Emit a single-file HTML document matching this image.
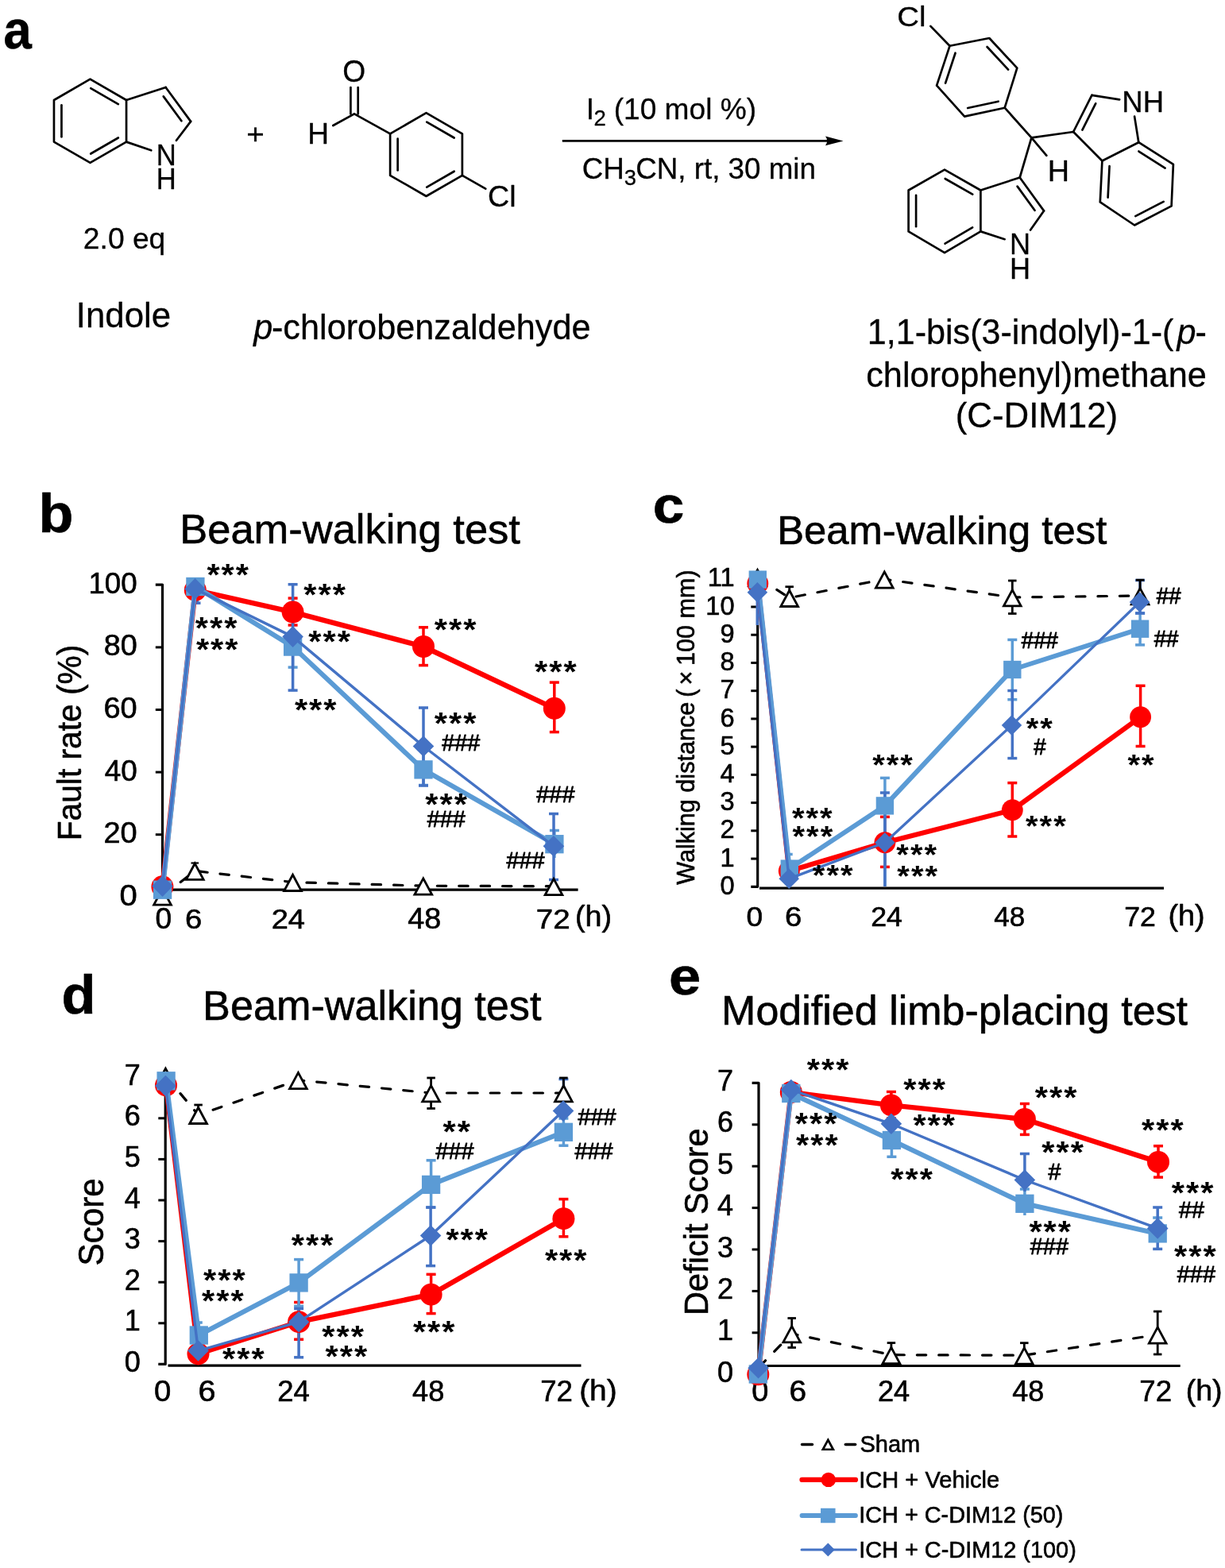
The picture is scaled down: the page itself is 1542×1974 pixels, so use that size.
<!DOCTYPE html>
<html lang="en"><head><meta charset="utf-8"><title>C-DIM12 synthesis and behavioural tests</title>
<style>html,body{margin:0;padding:0;background:#fff}body{width:1542px;height:1974px;overflow:hidden}svg{display:block}text{font-family:"Liberation Sans",Arial,Helvetica,sans-serif;fill:#000;white-space:pre;stroke:#000;stroke-width:.6px;stroke-linejoin:round}#panel-a text{stroke-width:.3px}.h{stroke-width:.9px}.a{stroke-width:0}</style>
</head><body>
<svg width="1542" height="1974" viewBox="0 0 1542 1974">
<rect width="1542" height="1974" fill="#fff"/>
<g id="panel-a">
<text transform="translate(4.28 60.91) scale(0.9353 1)" font-size="68.55" font-weight="bold">a</text>
<polygon points="113.5,99.7 159.05,126 159.05,178.6 113.5,204.9 67.95,178.6 67.95,126" fill="none" stroke="#000" stroke-width="2.7" stroke-linejoin="round"/>
<line x1="114.22" y1="111.08" x2="148.84" y2="131.07" stroke="#000" stroke-width="2.7" stroke-linecap="round"/>
<line x1="148.84" y1="173.53" x2="114.22" y2="193.52" stroke="#000" stroke-width="2.7" stroke-linecap="round"/>
<line x1="77.45" y1="172.29" x2="77.45" y2="132.31" stroke="#000" stroke-width="2.7" stroke-linecap="round"/>
<line x1="159.05" y1="126" x2="208.6" y2="110" stroke="#000" stroke-width="2.7" stroke-linecap="round"/>
<line x1="208.6" y1="110" x2="240.1" y2="152.9" stroke="#000" stroke-width="2.7" stroke-linecap="round"/>
<line x1="205.76" y1="121.33" x2="228.44" y2="152.22" stroke="#000" stroke-width="2.7" stroke-linecap="round"/>
<line x1="240.1" y1="152.9" x2="222" y2="176.8" stroke="#000" stroke-width="2.7" stroke-linecap="round"/>
<line x1="159.05" y1="178.6" x2="190.3" y2="189.3" stroke="#000" stroke-width="2.7" stroke-linecap="round"/>
<text transform="translate(196.63 207.5) scale(0.9600 1)" font-size="36.09">N</text>
<text transform="translate(196.63 237.6) scale(0.9600 1)" font-size="36.09">H</text>
<text transform="translate(104.84 312.8) scale(0.9981 1)" font-size="37.3">2.0 eq</text>
<text transform="translate(95.76 411.7) scale(0.9892 1)" font-size="44.3">Indole</text>
<text transform="translate(310.37 181) scale(1.1016 1)" font-size="35">+</text>
<polygon points="536.5,142.2 581.88,168.4 581.88,220.8 536.5,247 491.12,220.8 491.12,168.4" fill="none" stroke="#000" stroke-width="2.7" stroke-linejoin="round"/>
<line x1="537.2" y1="153.57" x2="571.68" y2="173.48" stroke="#000" stroke-width="2.7" stroke-linecap="round"/>
<line x1="571.68" y1="215.72" x2="537.2" y2="235.63" stroke="#000" stroke-width="2.7" stroke-linecap="round"/>
<line x1="500.62" y1="214.51" x2="500.62" y2="174.69" stroke="#000" stroke-width="2.7" stroke-linecap="round"/>
<line x1="491.12" y1="168.4" x2="446" y2="143.4" stroke="#000" stroke-width="2.7" stroke-linecap="round"/>
<line x1="446" y1="143.4" x2="419.3" y2="158" stroke="#000" stroke-width="2.7" stroke-linecap="round"/>
<line x1="441.4" y1="110" x2="441.4" y2="143.5" stroke="#000" stroke-width="2.7" stroke-linecap="round"/>
<line x1="450.7" y1="110" x2="450.7" y2="143.5" stroke="#000" stroke-width="2.7" stroke-linecap="round"/>
<text transform="translate(431.32 103.12) scale(0.9717 1)" font-size="38.31">O</text>
<text transform="translate(387.23 181.4) scale(0.9857 1)" font-size="37.68">H</text>
<line x1="581.88" y1="220.8" x2="611.3" y2="237.7" stroke="#000" stroke-width="2.7" stroke-linecap="round"/>
<text transform="translate(614.02 260.13) scale(1.0186 1)" font-size="37.01">Cl</text>
<text transform="translate(319.28 427.2) scale(0.9923 1)" font-size="43.6"><tspan x="0" font-style="italic">p</tspan><tspan x="22.85">-chlorobenzaldehyde</tspan></text>
<line x1="707.8" y1="177.4" x2="1045" y2="177.4" stroke="#000" stroke-width="2.9"/>
<path d="M1061.5 177.4 L1039 171.6 Q1043.5 177.4 1039 183.2 Z" fill="#000"/>
<text transform="translate(737.66 149.7) scale(1.0030 1)" font-size="37"><tspan x="0">I</tspan><tspan x="9.93" dy="8.3" font-size="27.5">2</tspan><tspan x="24.65" dy="-8.3"> (10 mol %)</tspan></text>
<text transform="translate(732.66 224.9) scale(0.9940 1)" font-size="37"><tspan x="0">CH</tspan><tspan x="53.37" dy="8.3" font-size="27.5">3</tspan><tspan x="67.91" dy="-8.3">CN, rt, 30 min</tspan></text>
<polygon points="1195.5,57.8 1245.3,48 1280.3,85.6 1264.7,135.7 1214.1,146.6 1179.1,107.7" fill="none" stroke="#000" stroke-width="2.7" stroke-linejoin="round"/>
<line x1="1242.55" y1="58.98" x2="1269.15" y2="87.56" stroke="#000" stroke-width="2.7" stroke-linecap="round"/>
<line x1="1256.63" y1="127.72" x2="1218.17" y2="136.01" stroke="#000" stroke-width="2.7" stroke-linecap="round"/>
<line x1="1190.09" y1="104.68" x2="1202.56" y2="66.75" stroke="#000" stroke-width="2.7" stroke-linecap="round"/>
<line x1="1171.3" y1="32.9" x2="1195.5" y2="57.8" stroke="#000" stroke-width="2.7" stroke-linecap="round"/>
<text transform="translate(1129.18 32.85) scale(1.0904 1)" font-size="35.24">Cl</text>
<line x1="1264.7" y1="135.7" x2="1298.4" y2="173.3" stroke="#000" stroke-width="2.7" stroke-linecap="round"/>
<line x1="1298.4" y1="173.3" x2="1317.4" y2="195.8" stroke="#000" stroke-width="2.7" stroke-linecap="round"/>
<text transform="translate(1318.77 227.8) scale(1.0244 1)" font-size="36.96">H</text>
<line x1="1298.4" y1="173.3" x2="1351.1" y2="166" stroke="#000" stroke-width="2.7" stroke-linecap="round"/>
<line x1="1351.1" y1="166" x2="1374.4" y2="119.8" stroke="#000" stroke-width="2.7" stroke-linecap="round"/>
<line x1="1374.4" y1="119.8" x2="1409.2" y2="125.3" stroke="#000" stroke-width="2.7" stroke-linecap="round"/>
<line x1="1428.1" y1="146.6" x2="1433.3" y2="179.2" stroke="#000" stroke-width="2.7" stroke-linecap="round"/>
<line x1="1351.1" y1="166" x2="1387.4" y2="202.5" stroke="#000" stroke-width="2.7" stroke-linecap="round"/>
<line x1="1362.4" y1="163.58" x2="1379.17" y2="130.32" stroke="#000" stroke-width="2.7" stroke-linecap="round"/>
<polygon points="1387.4,202.5 1384.8,254.4 1428.1,283.5 1474.6,259.4 1476.9,206.9 1433.3,179.2" fill="none" stroke="#000" stroke-width="2.7" stroke-linejoin="round"/>
<line x1="1396.58" y1="209.2" x2="1394.6" y2="248.65" stroke="#000" stroke-width="2.7" stroke-linecap="round"/>
<line x1="1429.31" y1="272.17" x2="1464.65" y2="253.86" stroke="#000" stroke-width="2.7" stroke-linecap="round"/>
<line x1="1466.57" y1="211.59" x2="1433.44" y2="190.54" stroke="#000" stroke-width="2.7" stroke-linecap="round"/>
<text transform="translate(1412.28 140.6) scale(0.9990 1)" font-size="36.52">NH</text>
<line x1="1298.4" y1="173.3" x2="1283.7" y2="223.5" stroke="#000" stroke-width="2.7" stroke-linecap="round"/>
<polygon points="1189,213.6 1234.4,239.5 1234.4,291.4 1189,318.1 1143.6,291.4 1143.6,239.5" fill="none" stroke="#000" stroke-width="2.7" stroke-linejoin="round"/>
<line x1="1189.74" y1="224.96" x2="1224.24" y2="244.64" stroke="#000" stroke-width="2.7" stroke-linecap="round"/>
<line x1="1224.14" y1="286.42" x2="1189.63" y2="306.71" stroke="#000" stroke-width="2.7" stroke-linecap="round"/>
<line x1="1153.1" y1="285.17" x2="1153.1" y2="245.73" stroke="#000" stroke-width="2.7" stroke-linecap="round"/>
<line x1="1234.4" y1="239.5" x2="1283.7" y2="223.5" stroke="#000" stroke-width="2.7" stroke-linecap="round"/>
<line x1="1283.7" y1="223.5" x2="1314" y2="265.4" stroke="#000" stroke-width="2.7" stroke-linecap="round"/>
<line x1="1314" y1="265.4" x2="1297.1" y2="289.6" stroke="#000" stroke-width="2.7" stroke-linecap="round"/>
<line x1="1234.4" y1="291.4" x2="1264.7" y2="301.2" stroke="#000" stroke-width="2.7" stroke-linecap="round"/>
<line x1="1280.65" y1="234.64" x2="1302.47" y2="264.81" stroke="#000" stroke-width="2.7" stroke-linecap="round"/>
<text transform="translate(1270.91 319.9) scale(0.9877 1)" font-size="36.52">N</text>
<text transform="translate(1270.91 351) scale(0.9916 1)" font-size="36.38">H</text>
<text transform="translate(1091.77 432.5) scale(0.9914 1)" font-size="43.5"><tspan x="0">1,1-bis(3-indolyl)-1-(</tspan><tspan x="393.1" font-style="italic">p</tspan><tspan x="416.29">-</tspan></text>
<text transform="translate(1090.17 486.9) scale(0.9962 1)" font-size="43.5">chlorophenyl)methane</text>
<text transform="translate(1202.67 537.8) scale(1.0075 1)" font-size="43.5">(C-DIM12)</text>
</g>
<g id="chart-b">
<text transform="translate(48.53 670.22) scale(1.0504 1)" font-size="68.44" font-weight="bold">b</text>
<text transform="translate(226.2 683.7) scale(1.0055 1)" font-size="52.2">Beam-walking test</text>
<text transform="translate(102.3 1058.36) rotate(-90) scale(0.9475 1)" font-size="43">Fault rate (%)</text>
<path d="M195.8 736.1 H204.5 V1120.2 H727.6" fill="none" stroke="#000" stroke-width="3.2" stroke-linejoin="round" stroke-linecap="butt"/>
<line x1="195.8" y1="814.9" x2="204.5" y2="814.9" stroke="#000" stroke-width="3"/>
<line x1="195.8" y1="893.5" x2="204.5" y2="893.5" stroke="#000" stroke-width="3"/>
<line x1="195.8" y1="972.1" x2="204.5" y2="972.1" stroke="#000" stroke-width="3"/>
<line x1="195.8" y1="1050.7" x2="204.5" y2="1050.7" stroke="#000" stroke-width="3"/>
<text transform="translate(111.45 746.6) scale(1.0144 1)" font-size="36.2">100</text>
<text transform="translate(130.7 825.4) scale(1.0433 1)" font-size="36.2">80</text>
<text transform="translate(130.5 904) scale(1.0484 1)" font-size="36.2">60</text>
<text transform="translate(131.66 982.6) scale(1.0186 1)" font-size="36.2">40</text>
<text transform="translate(130.5 1061.2) scale(1.0484 1)" font-size="36.2">20</text>
<text transform="translate(150.5 1139.8) scale(1.1050 1)" font-size="36.2">0</text>
<text transform="translate(195.62 1169.3) scale(1.0301 1)" font-size="36">0</text>
<text transform="translate(232.99 1169.3) scale(1.0633 1)" font-size="36">6</text>
<text transform="translate(341.7 1169.3) scale(1.0572 1)" font-size="36">24</text>
<text transform="translate(513.24 1169.3) scale(1.0503 1)" font-size="36">48</text>
<text transform="translate(674.77 1169.3) scale(1.0699 1)" font-size="36">72</text>
<text transform="translate(724.04 1166) scale(1.0197 1)" font-size="37">(h)</text>
<line x1="368.6" y1="753.1" x2="368.6" y2="787" stroke="#ff0000" stroke-width="3.5"/>
<line x1="362.6" y1="753.1" x2="374.6" y2="753.1" stroke="#ff0000" stroke-width="3.5"/>
<line x1="362.6" y1="787" x2="374.6" y2="787" stroke="#ff0000" stroke-width="3.5"/>
<line x1="533" y1="789.8" x2="533" y2="837.6" stroke="#ff0000" stroke-width="3.5"/>
<line x1="527" y1="789.8" x2="539" y2="789.8" stroke="#ff0000" stroke-width="3.5"/>
<line x1="527" y1="837.6" x2="539" y2="837.6" stroke="#ff0000" stroke-width="3.5"/>
<line x1="697.8" y1="859.1" x2="697.8" y2="921.6" stroke="#ff0000" stroke-width="3.5"/>
<line x1="691.8" y1="859.1" x2="703.8" y2="859.1" stroke="#ff0000" stroke-width="3.5"/>
<line x1="691.8" y1="921.6" x2="703.8" y2="921.6" stroke="#ff0000" stroke-width="3.5"/>
<line x1="368.6" y1="790" x2="368.6" y2="840.1" stroke="#5b9bd5" stroke-width="3.5"/>
<line x1="362.6" y1="840.1" x2="374.6" y2="840.1" stroke="#5b9bd5" stroke-width="3.5"/>
<line x1="533" y1="950" x2="533" y2="988.5" stroke="#5b9bd5" stroke-width="3.5"/>
<line x1="527" y1="988.5" x2="539" y2="988.5" stroke="#5b9bd5" stroke-width="3.5"/>
<line x1="697.9" y1="1045.5" x2="697.9" y2="1080" stroke="#5b9bd5" stroke-width="3.5"/>
<line x1="691.9" y1="1045.5" x2="703.9" y2="1045.5" stroke="#5b9bd5" stroke-width="3.5"/>
<line x1="368.6" y1="735.7" x2="368.6" y2="869.1" stroke="#4472c4" stroke-width="3.5"/>
<line x1="362.6" y1="735.7" x2="374.6" y2="735.7" stroke="#4472c4" stroke-width="3.5"/>
<line x1="362.6" y1="869.1" x2="374.6" y2="869.1" stroke="#4472c4" stroke-width="3.5"/>
<line x1="533" y1="891" x2="533" y2="989" stroke="#4472c4" stroke-width="3.5"/>
<line x1="527" y1="891" x2="539" y2="891" stroke="#4472c4" stroke-width="3.5"/>
<line x1="527" y1="989" x2="539" y2="989" stroke="#4472c4" stroke-width="3.5"/>
<line x1="697" y1="1024.5" x2="697" y2="1107.5" stroke="#4472c4" stroke-width="3.5"/>
<line x1="691" y1="1024.5" x2="703" y2="1024.5" stroke="#4472c4" stroke-width="3.5"/>
<line x1="691" y1="1107.5" x2="703" y2="1107.5" stroke="#4472c4" stroke-width="3.5"/>
<line x1="248.5" y1="745" x2="248.5" y2="759.2" stroke="#4472c4" stroke-width="3.5"/>
<line x1="244.5" y1="759.2" x2="252.5" y2="759.2" stroke="#4472c4" stroke-width="3.5"/>
<polyline points="204.5,1128.3 245.3,1096.4 368.5,1110.6 532.8,1115.2 697,1115.7" fill="none" stroke="#000" stroke-width="3.2" stroke-dasharray="11.4 16" stroke-dashoffset="-1.5" stroke-linecap="round"/>
<line x1="245.3" y1="1086" x2="245.3" y2="1092" stroke="#000" stroke-width="2.2"/>
<line x1="240.5" y1="1086.5" x2="250.1" y2="1086.5" stroke="#000" stroke-width="2.2"/>
<polygon points="204.5,1118.96 215.36,1139.2 193.64,1139.2" fill="#fff" stroke="#000" stroke-width="2.8"/>
<polygon points="245.3,1087.06 256.16,1107.3 234.44,1107.3" fill="#fff" stroke="#000" stroke-width="2.8"/>
<polygon points="368.5,1101.26 379.36,1121.5 357.64,1121.5" fill="#fff" stroke="#000" stroke-width="2.8"/>
<polygon points="532.8,1105.86 543.66,1126.1 521.94,1126.1" fill="#fff" stroke="#000" stroke-width="2.8"/>
<polygon points="697,1106.36 707.86,1126.6 686.14,1126.6" fill="#fff" stroke="#000" stroke-width="2.8"/>
<polyline points="204.4,1116.3 245.8,742.8 368.6,770.6 533,814 697.8,891.8" fill="none" stroke="#ff0000" stroke-width="6.4" stroke-linejoin="round" stroke-linecap="round"/>
<circle cx="204.4" cy="1116.3" r="14" fill="#ff0000"/>
<circle cx="245.8" cy="742.8" r="14" fill="#ff0000"/>
<circle cx="368.6" cy="770.6" r="14" fill="#ff0000"/>
<circle cx="533" cy="814" r="14" fill="#ff0000"/>
<circle cx="697.8" cy="891.8" r="14" fill="#ff0000"/>
<polyline points="204.6,1120.2 245.9,738.5 368.6,814.1 533,968.9 697.9,1062.7" fill="none" stroke="#5b9bd5" stroke-width="6.1" stroke-linejoin="round" stroke-linecap="round"/>
<rect x="192.95" y="1108.55" width="23.3" height="23.3" fill="#5b9bd5"/>
<rect x="234.25" y="726.85" width="23.3" height="23.3" fill="#5b9bd5"/>
<rect x="356.95" y="802.45" width="23.3" height="23.3" fill="#5b9bd5"/>
<rect x="521.35" y="957.25" width="23.3" height="23.3" fill="#5b9bd5"/>
<rect x="686.25" y="1051.05" width="23.3" height="23.3" fill="#5b9bd5"/>
<polyline points="204.5,1115.6 245.6,741.4 368.6,801.6 533,939.5 696.9,1065.3" fill="none" stroke="#4472c4" stroke-width="3.4" stroke-linejoin="round" stroke-linecap="round"/>
<polygon points="204.5,1102.3 217.8,1115.6 204.5,1128.9 191.2,1115.6" fill="#4472c4"/>
<polygon points="245.6,728.1 258.9,741.4 245.6,754.7 232.3,741.4" fill="#4472c4"/>
<polygon points="368.6,788.3 381.9,801.6 368.6,814.9 355.3,801.6" fill="#4472c4"/>
<polygon points="533,926.2 546.3,939.5 533,952.8 519.7,939.5" fill="#4472c4"/>
<polygon points="696.9,1052 710.2,1065.3 696.9,1078.6 683.6,1065.3" fill="#4472c4"/>
<text transform="translate(260.39 737.27) scale(1.08 1)" font-size="38.5" font-weight="bold" letter-spacing="1.9" class="a">***</text>
<text transform="translate(245.69 803.57) scale(1.08 1)" font-size="38.5" font-weight="bold" letter-spacing="1.9" class="a">***</text>
<text transform="translate(246.89 831.46) scale(1.08 1)" font-size="38.5" font-weight="bold" letter-spacing="1.9" class="a">***</text>
<text transform="translate(382.29 761.57) scale(1.08 1)" font-size="38.5" font-weight="bold" letter-spacing="1.9" class="a">***</text>
<text transform="translate(388.29 821.46) scale(1.08 1)" font-size="38.5" font-weight="bold" letter-spacing="1.9" class="a">***</text>
<text transform="translate(370.89 907.07) scale(1.08 1)" font-size="38.5" font-weight="bold" letter-spacing="1.9" class="a">***</text>
<text transform="translate(546.69 805.77) scale(1.08 1)" font-size="38.5" font-weight="bold" letter-spacing="1.9" class="a">***</text>
<text transform="translate(546.69 924.16) scale(1.08 1)" font-size="38.5" font-weight="bold" letter-spacing="1.9" class="a">***</text>
<text transform="translate(556.26 945.35) scale(0.96 1)" font-size="30" class="h">###</text>
<text transform="translate(535.19 1025.87) scale(1.08 1)" font-size="38.5" font-weight="bold" letter-spacing="1.9" class="a">***</text>
<text transform="translate(537.66 1041.25) scale(0.96 1)" font-size="30" class="h">###</text>
<text transform="translate(673.09 858.96) scale(1.08 1)" font-size="38.5" font-weight="bold" letter-spacing="1.9" class="a">***</text>
<text transform="translate(675.36 1009.85) scale(0.96 1)" font-size="30" class="h">###</text>
<text transform="translate(637.56 1092.55) scale(0.96 1)" font-size="30" class="h">###</text>
</g>
<g id="chart-c">
<text transform="translate(821.75 657.65) scale(1.0898 1)" font-size="65.27" font-weight="bold">c</text>
<text transform="translate(978.13 685.1) scale(1.0125 1)" font-size="50.2">Beam-walking test</text>
<text transform="translate(873.8 1113.85) rotate(-90) scale(0.9504 1)" font-size="32.2"><tspan x="0">Walking distance</tspan><tspan x="239.43"> (</tspan><tspan x="264.43">×</tspan><tspan x="290.15">100 mm)</tspan></text>
<path d="M953.7 728.8 V1116.3 H945.3" fill="none" stroke="#000" stroke-width="3.2" stroke-linejoin="round"/>
<line x1="956" y1="1118.2" x2="1465" y2="1118.2" stroke="#000" stroke-width="3.2"/>
<line x1="945.3" y1="1081.07" x2="953.7" y2="1081.07" stroke="#000" stroke-width="3"/>
<line x1="945.3" y1="1045.84" x2="953.7" y2="1045.84" stroke="#000" stroke-width="3"/>
<line x1="945.3" y1="1010.61" x2="953.7" y2="1010.61" stroke="#000" stroke-width="3"/>
<line x1="945.3" y1="975.38" x2="953.7" y2="975.38" stroke="#000" stroke-width="3"/>
<line x1="945.3" y1="940.15" x2="953.7" y2="940.15" stroke="#000" stroke-width="3"/>
<line x1="945.3" y1="904.92" x2="953.7" y2="904.92" stroke="#000" stroke-width="3"/>
<line x1="945.3" y1="869.69" x2="953.7" y2="869.69" stroke="#000" stroke-width="3"/>
<line x1="945.3" y1="834.46" x2="953.7" y2="834.46" stroke="#000" stroke-width="3"/>
<line x1="945.3" y1="799.23" x2="953.7" y2="799.23" stroke="#000" stroke-width="3"/>
<line x1="945.3" y1="764" x2="953.7" y2="764" stroke="#000" stroke-width="3"/>
<text x="906.47" y="1125.9" font-size="32.6">0</text>
<text x="906.47" y="1090.67" font-size="32.6">1</text>
<text x="906.47" y="1055.44" font-size="32.6">2</text>
<text x="906.47" y="1020.21" font-size="32.6">3</text>
<text x="906.47" y="984.98" font-size="32.6">4</text>
<text x="906.47" y="949.75" font-size="32.6">5</text>
<text x="906.47" y="914.52" font-size="32.6">6</text>
<text x="906.47" y="879.29" font-size="32.6">7</text>
<text x="906.47" y="844.06" font-size="32.6">8</text>
<text x="906.47" y="808.83" font-size="32.6">9</text>
<text x="888.34" y="773.6" font-size="32.6">10</text>
<text x="890.76" y="738.37" font-size="32.6">11</text>
<text transform="translate(939.52 1166) scale(1.0656 1)" font-size="34.8">0</text>
<text transform="translate(987.89 1166) scale(1.1000 1)" font-size="34.8">6</text>
<text transform="translate(1096.21 1166) scale(1.0267 1)" font-size="34.8">24</text>
<text transform="translate(1251.3 1166) scale(1.0071 1)" font-size="34.8">48</text>
<text transform="translate(1415.22 1166) scale(1.0242 1)" font-size="34.8">72</text>
<text transform="translate(1470.44 1165) scale(1.0197 1)" font-size="37">(h)</text>
<line x1="1113.9" y1="1028.4" x2="1113.9" y2="1091.4" stroke="#ff0000" stroke-width="3.5"/>
<line x1="1107.9" y1="1028.4" x2="1119.9" y2="1028.4" stroke="#ff0000" stroke-width="3.5"/>
<line x1="1107.9" y1="1091.4" x2="1119.9" y2="1091.4" stroke="#ff0000" stroke-width="3.5"/>
<line x1="1274.3" y1="985.6" x2="1274.3" y2="1053" stroke="#ff0000" stroke-width="3.5"/>
<line x1="1268.3" y1="985.6" x2="1280.3" y2="985.6" stroke="#ff0000" stroke-width="3.5"/>
<line x1="1268.3" y1="1053" x2="1280.3" y2="1053" stroke="#ff0000" stroke-width="3.5"/>
<line x1="1435.6" y1="863.3" x2="1435.6" y2="939.5" stroke="#ff0000" stroke-width="3.5"/>
<line x1="1429.6" y1="863.3" x2="1441.6" y2="863.3" stroke="#ff0000" stroke-width="3.5"/>
<line x1="1429.6" y1="939.5" x2="1441.6" y2="939.5" stroke="#ff0000" stroke-width="3.5"/>
<line x1="1113.9" y1="979.4" x2="1113.9" y2="1116" stroke="#5b9bd5" stroke-width="3.5"/>
<line x1="1107.9" y1="979.4" x2="1119.9" y2="979.4" stroke="#5b9bd5" stroke-width="3.5"/>
<line x1="993.2" y1="1075.5" x2="993.2" y2="1095" stroke="#5b9bd5" stroke-width="3.5"/>
<line x1="988.7" y1="1075.5" x2="997.7" y2="1075.5" stroke="#5b9bd5" stroke-width="3.5"/>
<line x1="1274.3" y1="805.4" x2="1274.3" y2="880.7" stroke="#5b9bd5" stroke-width="3.5"/>
<line x1="1268.3" y1="805.4" x2="1280.3" y2="805.4" stroke="#5b9bd5" stroke-width="3.5"/>
<line x1="1268.3" y1="880.7" x2="1280.3" y2="880.7" stroke="#5b9bd5" stroke-width="3.5"/>
<line x1="1435.1" y1="772" x2="1435.1" y2="811.9" stroke="#5b9bd5" stroke-width="3.5"/>
<line x1="1429.1" y1="772" x2="1441.1" y2="772" stroke="#5b9bd5" stroke-width="3.5"/>
<line x1="1429.1" y1="811.9" x2="1441.1" y2="811.9" stroke="#5b9bd5" stroke-width="3.5"/>
<line x1="1113.9" y1="998" x2="1113.9" y2="1116" stroke="#4472c4" stroke-width="3.5"/>
<line x1="1107.9" y1="998" x2="1119.9" y2="998" stroke="#4472c4" stroke-width="3.5"/>
<line x1="1274.3" y1="869.5" x2="1274.3" y2="954.6" stroke="#4472c4" stroke-width="3.5"/>
<line x1="1268.3" y1="869.5" x2="1280.3" y2="869.5" stroke="#4472c4" stroke-width="3.5"/>
<line x1="1268.3" y1="954.6" x2="1280.3" y2="954.6" stroke="#4472c4" stroke-width="3.5"/>
<line x1="1435.1" y1="730.5" x2="1435.1" y2="772" stroke="#4472c4" stroke-width="3.5"/>
<line x1="1429.1" y1="730.5" x2="1441.1" y2="730.5" stroke="#4472c4" stroke-width="3.5"/>
<line x1="1429.1" y1="772" x2="1441.1" y2="772" stroke="#4472c4" stroke-width="3.5"/>
<line x1="953.3" y1="745" x2="953.3" y2="787" stroke="#4472c4" stroke-width="3.6"/>
<polyline points="953.5,726.8 993.7,752.6 1113.3,729.2 1274.3,752 1435.1,750" fill="none" stroke="#000" stroke-width="3.2" stroke-dasharray="11.4 16" stroke-dashoffset="-1.5" stroke-linecap="round"/>
<line x1="993.7" y1="738.7" x2="993.7" y2="745" stroke="#000" stroke-width="2.8"/>
<line x1="988.45" y1="738.7" x2="998.95" y2="738.7" stroke="#000" stroke-width="2.8"/>
<line x1="1274.3" y1="731" x2="1274.3" y2="772.5" stroke="#000" stroke-width="2.8"/>
<line x1="1269.05" y1="731" x2="1279.55" y2="731" stroke="#000" stroke-width="2.8"/>
<line x1="1269.05" y1="772.5" x2="1279.55" y2="772.5" stroke="#000" stroke-width="2.8"/>
<line x1="1435.1" y1="730.2" x2="1435.1" y2="745" stroke="#000" stroke-width="2.8"/>
<line x1="1429.85" y1="730.2" x2="1440.35" y2="730.2" stroke="#000" stroke-width="2.8"/>
<polygon points="953.5,717.46 964.36,737.7 942.64,737.7" fill="#fff" stroke="#000" stroke-width="2.8"/>
<polygon points="993.7,743.26 1004.56,763.5 982.84,763.5" fill="#fff" stroke="#000" stroke-width="2.8"/>
<polygon points="1113.3,719.86 1124.16,740.1 1102.44,740.1" fill="#fff" stroke="#000" stroke-width="2.8"/>
<polygon points="1274.3,742.66 1285.16,762.9 1263.44,762.9" fill="#fff" stroke="#000" stroke-width="2.8"/>
<polygon points="1435.1,740.66 1445.96,760.9 1424.24,760.9" fill="#fff" stroke="#000" stroke-width="2.8"/>
<polyline points="953.8,734.4 993.3,1096.5 1113.9,1060.8 1274.3,1019.8 1435.6,902.7" fill="none" stroke="#ff0000" stroke-width="6.27" stroke-linejoin="round" stroke-linecap="round"/>
<circle cx="953.8" cy="734.4" r="13.44" fill="#ff0000"/>
<circle cx="993.3" cy="1096.5" r="13.44" fill="#ff0000"/>
<circle cx="1113.9" cy="1060.8" r="13.44" fill="#ff0000"/>
<circle cx="1274.3" cy="1019.8" r="13.44" fill="#ff0000"/>
<circle cx="1435.6" cy="902.7" r="13.44" fill="#ff0000"/>
<polyline points="953.8,729.6 993.8,1093.6 1113.9,1014.4 1274.3,843 1435.1,791.7" fill="none" stroke="#5b9bd5" stroke-width="5.98" stroke-linejoin="round" stroke-linecap="round"/>
<rect x="942.62" y="718.42" width="22.37" height="22.37" fill="#5b9bd5"/>
<rect x="982.62" y="1082.42" width="22.37" height="22.37" fill="#5b9bd5"/>
<rect x="1102.72" y="1003.22" width="22.37" height="22.37" fill="#5b9bd5"/>
<rect x="1263.12" y="831.82" width="22.37" height="22.37" fill="#5b9bd5"/>
<rect x="1423.92" y="780.52" width="22.37" height="22.37" fill="#5b9bd5"/>
<polyline points="953.4,745.7 993.2,1106.2 1113.9,1060.8 1273.5,913.1 1434.6,758" fill="none" stroke="#4472c4" stroke-width="3.33" stroke-linejoin="round" stroke-linecap="round"/>
<polygon points="953.4,732.93 966.17,745.7 953.4,758.47 940.63,745.7" fill="#4472c4"/>
<polygon points="993.2,1093.43 1005.97,1106.2 993.2,1118.97 980.43,1106.2" fill="#4472c4"/>
<polygon points="1113.9,1048.03 1126.67,1060.8 1113.9,1073.57 1101.13,1060.8" fill="#4472c4"/>
<polygon points="1273.5,900.33 1286.27,913.1 1273.5,925.87 1260.73,913.1" fill="#4472c4"/>
<polygon points="1434.6,745.23 1447.37,758 1434.6,770.77 1421.83,758" fill="#4472c4"/>
<text transform="translate(996.9 1043) scale(1.08 1)" font-size="36.96" font-weight="bold" letter-spacing="1.9" class="a">***</text>
<text transform="translate(997.5 1066.4) scale(1.08 1)" font-size="36.96" font-weight="bold" letter-spacing="1.9" class="a">***</text>
<text transform="translate(1022.8 1115) scale(1.08 1)" font-size="36.96" font-weight="bold" letter-spacing="1.9" class="a">***</text>
<text transform="translate(1098.2 975.5) scale(1.08 1)" font-size="36.96" font-weight="bold" letter-spacing="1.9" class="a">***</text>
<text transform="translate(1128.3 1088.9) scale(1.08 1)" font-size="36.96" font-weight="bold" letter-spacing="1.9" class="a">***</text>
<text transform="translate(1129.3 1116.2) scale(1.08 1)" font-size="36.96" font-weight="bold" letter-spacing="1.9" class="a">***</text>
<text transform="translate(1291 1053.1) scale(1.08 1)" font-size="36.96" font-weight="bold" letter-spacing="1.9" class="a">***</text>
<text transform="translate(1285.86 815.53) scale(0.96 1)" font-size="28.8" class="h">###</text>
<text transform="translate(1291.7 930.3) scale(1.08 1)" font-size="36.96" font-weight="bold" letter-spacing="1.9" class="a">**</text>
<text transform="translate(1301.36 949.73) scale(0.96 1)" font-size="28.8" class="h">#</text>
<text transform="translate(1455.76 760.33) scale(0.96 1)" font-size="28.8" class="h">##</text>
<text transform="translate(1452.66 813.53) scale(0.96 1)" font-size="28.8" class="h">##</text>
<text transform="translate(1419.4 975.7) scale(1.08 1)" font-size="36.96" font-weight="bold" letter-spacing="1.9" class="a">**</text>
</g>
<g id="chart-d">
<text transform="translate(77.58 1275.52) scale(1.0301 1)" font-size="68.44" font-weight="bold">d</text>
<text transform="translate(255.12 1283.9) scale(1.0075 1)" font-size="51.8">Beam-walking test</text>
<text transform="translate(129.5 1593.4) rotate(-90) scale(0.9697 1)" font-size="43.5">Score</text>
<path d="M208.2 1356.2 V1717.4 H199.3" fill="none" stroke="#000" stroke-width="3.2" stroke-linejoin="round"/>
<line x1="211.5" y1="1719.1" x2="731.5" y2="1719.1" stroke="#000" stroke-width="3.2"/>
<line x1="199.3" y1="1665.8" x2="208.2" y2="1665.8" stroke="#000" stroke-width="3"/>
<line x1="199.3" y1="1614.2" x2="208.2" y2="1614.2" stroke="#000" stroke-width="3"/>
<line x1="199.3" y1="1562.6" x2="208.2" y2="1562.6" stroke="#000" stroke-width="3"/>
<line x1="199.3" y1="1511" x2="208.2" y2="1511" stroke="#000" stroke-width="3"/>
<line x1="199.3" y1="1459.4" x2="208.2" y2="1459.4" stroke="#000" stroke-width="3"/>
<line x1="199.3" y1="1407.8" x2="208.2" y2="1407.8" stroke="#000" stroke-width="3"/>
<text x="156.78" y="1727" font-size="36">0</text>
<text x="156.78" y="1675.4" font-size="36">1</text>
<text x="156.78" y="1623.8" font-size="36">2</text>
<text x="156.78" y="1572.2" font-size="36">3</text>
<text x="156.78" y="1520.6" font-size="36">4</text>
<text x="156.78" y="1469" font-size="36">5</text>
<text x="156.78" y="1417.4" font-size="36">6</text>
<text x="156.78" y="1365.8" font-size="36">7</text>
<text transform="translate(194.07 1764.4) scale(1.0502 1)" font-size="36.5">0</text>
<text transform="translate(249.62 1764.4) scale(1.0841 1)" font-size="36.5">6</text>
<text transform="translate(349.17 1764.4)" font-size="36.5">24</text>
<text transform="translate(519.08 1764.4) scale(0.9915 1)" font-size="36.5">48</text>
<text transform="translate(680.17 1764.4) scale(1.0037 1)" font-size="36.5">72</text>
<text transform="translate(729.17 1763) scale(1.0516 1)" font-size="37">(h)</text>
<line x1="376.1" y1="1639.5" x2="376.1" y2="1686.2" stroke="#ff0000" stroke-width="3.5"/>
<line x1="370.1" y1="1639.5" x2="382.1" y2="1639.5" stroke="#ff0000" stroke-width="3.5"/>
<line x1="370.1" y1="1686.2" x2="382.1" y2="1686.2" stroke="#ff0000" stroke-width="3.5"/>
<line x1="542.6" y1="1604.3" x2="542.6" y2="1653.6" stroke="#ff0000" stroke-width="3.5"/>
<line x1="536.6" y1="1604.3" x2="548.6" y2="1604.3" stroke="#ff0000" stroke-width="3.5"/>
<line x1="536.6" y1="1653.6" x2="548.6" y2="1653.6" stroke="#ff0000" stroke-width="3.5"/>
<line x1="709.4" y1="1509.6" x2="709.4" y2="1556.8" stroke="#ff0000" stroke-width="3.5"/>
<line x1="703.4" y1="1509.6" x2="715.4" y2="1509.6" stroke="#ff0000" stroke-width="3.5"/>
<line x1="703.4" y1="1556.8" x2="715.4" y2="1556.8" stroke="#ff0000" stroke-width="3.5"/>
<line x1="376.1" y1="1585.6" x2="376.1" y2="1644.4" stroke="#5b9bd5" stroke-width="3.5"/>
<line x1="370.1" y1="1585.6" x2="382.1" y2="1585.6" stroke="#5b9bd5" stroke-width="3.5"/>
<line x1="370.1" y1="1644.4" x2="382.1" y2="1644.4" stroke="#5b9bd5" stroke-width="3.5"/>
<line x1="250.3" y1="1665" x2="250.3" y2="1690" stroke="#5b9bd5" stroke-width="3.5"/>
<line x1="245.8" y1="1665" x2="254.8" y2="1665" stroke="#5b9bd5" stroke-width="3.5"/>
<line x1="542.6" y1="1460.8" x2="542.6" y2="1520" stroke="#5b9bd5" stroke-width="3.5"/>
<line x1="536.6" y1="1460.8" x2="548.6" y2="1460.8" stroke="#5b9bd5" stroke-width="3.5"/>
<line x1="536.6" y1="1520" x2="548.6" y2="1520" stroke="#5b9bd5" stroke-width="3.5"/>
<line x1="709.4" y1="1408" x2="709.4" y2="1442.2" stroke="#5b9bd5" stroke-width="3.5"/>
<line x1="703.4" y1="1408" x2="715.4" y2="1408" stroke="#5b9bd5" stroke-width="3.5"/>
<line x1="703.4" y1="1442.2" x2="715.4" y2="1442.2" stroke="#5b9bd5" stroke-width="3.5"/>
<line x1="376.1" y1="1647.5" x2="376.1" y2="1708.8" stroke="#4472c4" stroke-width="3.5"/>
<line x1="370.1" y1="1647.5" x2="382.1" y2="1647.5" stroke="#4472c4" stroke-width="3.5"/>
<line x1="370.1" y1="1708.8" x2="382.1" y2="1708.8" stroke="#4472c4" stroke-width="3.5"/>
<line x1="542.1" y1="1520" x2="542.1" y2="1593.6" stroke="#4472c4" stroke-width="3.5"/>
<line x1="536.1" y1="1520" x2="548.1" y2="1520" stroke="#4472c4" stroke-width="3.5"/>
<line x1="536.1" y1="1593.6" x2="548.1" y2="1593.6" stroke="#4472c4" stroke-width="3.5"/>
<line x1="709.4" y1="1358.5" x2="709.4" y2="1400" stroke="#4472c4" stroke-width="3.5"/>
<line x1="703.4" y1="1358.5" x2="715.4" y2="1358.5" stroke="#4472c4" stroke-width="3.5"/>
<polyline points="208.4,1354.5 249.6,1403.6 375.4,1359.8 542.6,1376 709.4,1376" fill="none" stroke="#000" stroke-width="3.2" stroke-dasharray="11.4 16" stroke-dashoffset="-1.5" stroke-linecap="round"/>
<line x1="249.6" y1="1391" x2="249.6" y2="1396" stroke="#000" stroke-width="2.8"/>
<line x1="244.35" y1="1391" x2="254.85" y2="1391" stroke="#000" stroke-width="2.8"/>
<line x1="542.6" y1="1357" x2="542.6" y2="1395.5" stroke="#000" stroke-width="2.8"/>
<line x1="537.35" y1="1357" x2="547.85" y2="1357" stroke="#000" stroke-width="2.8"/>
<line x1="537.35" y1="1395.5" x2="547.85" y2="1395.5" stroke="#000" stroke-width="2.8"/>
<line x1="709.4" y1="1357" x2="709.4" y2="1370" stroke="#000" stroke-width="2.8"/>
<line x1="704.15" y1="1357" x2="714.65" y2="1357" stroke="#000" stroke-width="2.8"/>
<polygon points="208.4,1345.16 219.26,1365.4 197.54,1365.4" fill="#fff" stroke="#000" stroke-width="2.8"/>
<polygon points="249.6,1394.26 260.46,1414.5 238.74,1414.5" fill="#fff" stroke="#000" stroke-width="2.8"/>
<polygon points="375.4,1350.46 386.26,1370.7 364.54,1370.7" fill="#fff" stroke="#000" stroke-width="2.8"/>
<polygon points="542.6,1366.66 553.46,1386.9 531.74,1386.9" fill="#fff" stroke="#000" stroke-width="2.8"/>
<polygon points="709.4,1366.66 720.26,1386.9 698.54,1386.9" fill="#fff" stroke="#000" stroke-width="2.8"/>
<polyline points="209,1366.3 249.5,1704.4 376.1,1664.2 542.6,1629.7 709.4,1534.2" fill="none" stroke="#ff0000" stroke-width="6.4" stroke-linejoin="round" stroke-linecap="round"/>
<circle cx="209" cy="1366.3" r="14" fill="#ff0000"/>
<circle cx="249.5" cy="1704.4" r="14" fill="#ff0000"/>
<circle cx="376.1" cy="1664.2" r="14" fill="#ff0000"/>
<circle cx="542.6" cy="1629.7" r="14" fill="#ff0000"/>
<circle cx="709.4" cy="1534.2" r="14" fill="#ff0000"/>
<polyline points="209.1,1360.8 250.3,1681 376.1,1614.9 542.6,1491.4 709.4,1425.3" fill="none" stroke="#5b9bd5" stroke-width="6.1" stroke-linejoin="round" stroke-linecap="round"/>
<rect x="197.45" y="1349.15" width="23.3" height="23.3" fill="#5b9bd5"/>
<rect x="238.65" y="1669.35" width="23.3" height="23.3" fill="#5b9bd5"/>
<rect x="364.45" y="1603.25" width="23.3" height="23.3" fill="#5b9bd5"/>
<rect x="530.95" y="1479.75" width="23.3" height="23.3" fill="#5b9bd5"/>
<rect x="697.75" y="1413.65" width="23.3" height="23.3" fill="#5b9bd5"/>
<polyline points="208.4,1367 249.5,1700.5 376.1,1664.2 542.1,1555.5 709,1398.6" fill="none" stroke="#4472c4" stroke-width="3.4" stroke-linejoin="round" stroke-linecap="round"/>
<polygon points="208.4,1353.7 221.7,1367 208.4,1380.3 195.1,1367" fill="#4472c4"/>
<polygon points="249.5,1687.2 262.8,1700.5 249.5,1713.8 236.2,1700.5" fill="#4472c4"/>
<polygon points="376.1,1650.9 389.4,1664.2 376.1,1677.5 362.8,1664.2" fill="#4472c4"/>
<polygon points="542.1,1542.2 555.4,1555.5 542.1,1568.8 528.8,1555.5" fill="#4472c4"/>
<polygon points="709,1385.3 722.3,1398.6 709,1411.9 695.7,1398.6" fill="#4472c4"/>
<text transform="translate(256.09 1625.37) scale(1.08 1)" font-size="38.5" font-weight="bold" letter-spacing="1.9" class="a">***</text>
<text transform="translate(253.99 1651.27) scale(1.08 1)" font-size="38.5" font-weight="bold" letter-spacing="1.9" class="a">***</text>
<text transform="translate(279.99 1724.47) scale(1.08 1)" font-size="38.5" font-weight="bold" letter-spacing="1.9" class="a">***</text>
<text transform="translate(366.79 1580.87) scale(1.08 1)" font-size="38.5" font-weight="bold" letter-spacing="1.9" class="a">***</text>
<text transform="translate(405.19 1696.37) scale(1.08 1)" font-size="38.5" font-weight="bold" letter-spacing="1.9" class="a">***</text>
<text transform="translate(409.59 1720.97) scale(1.08 1)" font-size="38.5" font-weight="bold" letter-spacing="1.9" class="a">***</text>
<text transform="translate(557.49 1438.07) scale(1.08 1)" font-size="38.5" font-weight="bold" letter-spacing="1.9" class="a">**</text>
<text transform="translate(548.46 1459.35) scale(0.96 1)" font-size="30" class="h">###</text>
<text transform="translate(561.39 1574.27) scale(1.08 1)" font-size="38.5" font-weight="bold" letter-spacing="1.9" class="a">***</text>
<text transform="translate(519.89 1689.97) scale(1.08 1)" font-size="38.5" font-weight="bold" letter-spacing="1.9" class="a">***</text>
<text transform="translate(727.46 1416.05) scale(0.96 1)" font-size="30" class="h">###</text>
<text transform="translate(723.56 1459.35) scale(0.96 1)" font-size="30" class="h">###</text>
<text transform="translate(685.89 1600.16) scale(1.08 1)" font-size="38.5" font-weight="bold" letter-spacing="1.9" class="a">***</text>
</g>
<g id="chart-e">
<text transform="translate(842.01 1251.53) scale(1.0844 1)" font-size="66.55" font-weight="bold">e</text>
<text transform="translate(908.04 1290.2) scale(0.9950 1)" font-size="52.3">Modified limb-placing test</text>
<text transform="translate(890.8 1656.03) rotate(-90) scale(0.9851 1)" font-size="42.2">Deficit Score</text>
<path d="M946.6 1363.4 H955 V1719.5 H1485.7" fill="none" stroke="#000" stroke-width="3.2" stroke-linejoin="round"/>
<line x1="946.6" y1="1677.8" x2="955" y2="1677.8" stroke="#000" stroke-width="3"/>
<line x1="946.6" y1="1625.4" x2="955" y2="1625.4" stroke="#000" stroke-width="3"/>
<line x1="946.6" y1="1573" x2="955" y2="1573" stroke="#000" stroke-width="3"/>
<line x1="946.6" y1="1520.6" x2="955" y2="1520.6" stroke="#000" stroke-width="3"/>
<line x1="946.6" y1="1468.2" x2="955" y2="1468.2" stroke="#000" stroke-width="3"/>
<line x1="946.6" y1="1415.8" x2="955" y2="1415.8" stroke="#000" stroke-width="3"/>
<text x="902.98" y="1739.8" font-size="36">0</text>
<text x="902.98" y="1687.4" font-size="36">1</text>
<text x="902.98" y="1635" font-size="36">2</text>
<text x="902.98" y="1582.6" font-size="36">3</text>
<text x="902.98" y="1530.2" font-size="36">4</text>
<text x="902.98" y="1477.8" font-size="36">5</text>
<text x="902.98" y="1425.4" font-size="36">6</text>
<text x="902.98" y="1373" font-size="36">7</text>
<text transform="translate(946.18 1764.2) scale(1.0474 1)" font-size="36.2">0</text>
<text transform="translate(993.55 1764.2) scale(1.0753 1)" font-size="36.2">6</text>
<text transform="translate(1104.99 1764.2)" font-size="36.2">24</text>
<text transform="translate(1274.28 1764.2) scale(0.9945 1)" font-size="36.2">48</text>
<text transform="translate(1434.37 1764.2) scale(1.0120 1)" font-size="36.2">72</text>
<text transform="translate(1492.64 1762.6) scale(1.0311 1)" font-size="36.5">(h)</text>
<line x1="1121.9" y1="1374.5" x2="1121.9" y2="1408" stroke="#ff0000" stroke-width="3.5"/>
<line x1="1115.9" y1="1374.5" x2="1127.9" y2="1374.5" stroke="#ff0000" stroke-width="3.5"/>
<line x1="1115.9" y1="1408" x2="1127.9" y2="1408" stroke="#ff0000" stroke-width="3.5"/>
<line x1="1289.9" y1="1389.5" x2="1289.9" y2="1428.4" stroke="#ff0000" stroke-width="3.5"/>
<line x1="1283.9" y1="1389.5" x2="1295.9" y2="1389.5" stroke="#ff0000" stroke-width="3.5"/>
<line x1="1283.9" y1="1428.4" x2="1295.9" y2="1428.4" stroke="#ff0000" stroke-width="3.5"/>
<line x1="1458" y1="1442.7" x2="1458" y2="1482.1" stroke="#ff0000" stroke-width="3.5"/>
<line x1="1452" y1="1442.7" x2="1464" y2="1442.7" stroke="#ff0000" stroke-width="3.5"/>
<line x1="1452" y1="1482.1" x2="1464" y2="1482.1" stroke="#ff0000" stroke-width="3.5"/>
<line x1="1122.4" y1="1435.5" x2="1122.4" y2="1456.3" stroke="#5b9bd5" stroke-width="3.5"/>
<line x1="1116.4" y1="1456.3" x2="1128.4" y2="1456.3" stroke="#5b9bd5" stroke-width="3.5"/>
<line x1="1289.9" y1="1497" x2="1289.9" y2="1530" stroke="#5b9bd5" stroke-width="3.5"/>
<line x1="1283.9" y1="1497" x2="1295.9" y2="1497" stroke="#5b9bd5" stroke-width="3.5"/>
<line x1="1457.2" y1="1533" x2="1457.2" y2="1560" stroke="#5b9bd5" stroke-width="3.5"/>
<line x1="1451.2" y1="1533" x2="1463.2" y2="1533" stroke="#5b9bd5" stroke-width="3.5"/>
<line x1="1289.9" y1="1452.5" x2="1289.9" y2="1500" stroke="#4472c4" stroke-width="3.5"/>
<line x1="1283.9" y1="1452.5" x2="1295.9" y2="1452.5" stroke="#4472c4" stroke-width="3.5"/>
<line x1="1457.2" y1="1520" x2="1457.2" y2="1572.4" stroke="#4472c4" stroke-width="3.5"/>
<line x1="1451.2" y1="1520" x2="1463.2" y2="1520" stroke="#4472c4" stroke-width="3.5"/>
<line x1="1451.2" y1="1572.4" x2="1463.2" y2="1572.4" stroke="#4472c4" stroke-width="3.5"/>
<polyline points="954.5,1722 996.7,1679 1121.9,1705.7 1289.3,1706.2 1457.2,1680.3" fill="none" stroke="#000" stroke-width="3.2" stroke-dasharray="11.4 16" stroke-dashoffset="-1.5" stroke-linecap="round"/>
<line x1="996.7" y1="1659.5" x2="996.7" y2="1696.5" stroke="#000" stroke-width="2.8"/>
<line x1="991.45" y1="1659.5" x2="1001.95" y2="1659.5" stroke="#000" stroke-width="2.8"/>
<line x1="991.45" y1="1696.5" x2="1001.95" y2="1696.5" stroke="#000" stroke-width="2.8"/>
<line x1="1121.9" y1="1690.6" x2="1121.9" y2="1700" stroke="#000" stroke-width="2.8"/>
<line x1="1116.65" y1="1690.6" x2="1127.15" y2="1690.6" stroke="#000" stroke-width="2.8"/>
<line x1="1289.3" y1="1690.7" x2="1289.3" y2="1700" stroke="#000" stroke-width="2.8"/>
<line x1="1284.05" y1="1690.7" x2="1294.55" y2="1690.7" stroke="#000" stroke-width="2.8"/>
<line x1="1457.2" y1="1651" x2="1457.2" y2="1705" stroke="#000" stroke-width="2.8"/>
<line x1="1451.95" y1="1651" x2="1462.45" y2="1651" stroke="#000" stroke-width="2.8"/>
<line x1="1451.95" y1="1705" x2="1462.45" y2="1705" stroke="#000" stroke-width="2.8"/>
<polygon points="954.5,1712.66 965.36,1732.9 943.64,1732.9" fill="#fff" stroke="#000" stroke-width="2.8"/>
<polygon points="996.7,1669.66 1007.56,1689.9 985.84,1689.9" fill="#fff" stroke="#000" stroke-width="2.8"/>
<polygon points="1121.9,1696.36 1132.76,1716.6 1111.04,1716.6" fill="#fff" stroke="#000" stroke-width="2.8"/>
<polygon points="1289.3,1696.86 1300.16,1717.1 1278.44,1717.1" fill="#fff" stroke="#000" stroke-width="2.8"/>
<polygon points="1457.2,1670.96 1468.06,1691.2 1446.34,1691.2" fill="#fff" stroke="#000" stroke-width="2.8"/>
<polyline points="954.3,1730.3 995.8,1375 1121.9,1391.4 1289.9,1409 1458,1462.9" fill="none" stroke="#ff0000" stroke-width="6.4" stroke-linejoin="round" stroke-linecap="round"/>
<circle cx="954.3" cy="1730.3" r="14" fill="#ff0000"/>
<circle cx="995.8" cy="1375" r="14" fill="#ff0000"/>
<circle cx="1121.9" cy="1391.4" r="14" fill="#ff0000"/>
<circle cx="1289.9" cy="1409" r="14" fill="#ff0000"/>
<circle cx="1458" cy="1462.9" r="14" fill="#ff0000"/>
<polyline points="954.3,1730 995.8,1376.5 1122.4,1435.5 1289.9,1515.3 1457.2,1552.9" fill="none" stroke="#5b9bd5" stroke-width="6.1" stroke-linejoin="round" stroke-linecap="round"/>
<rect x="942.65" y="1718.35" width="23.3" height="23.3" fill="#5b9bd5"/>
<rect x="984.15" y="1364.85" width="23.3" height="23.3" fill="#5b9bd5"/>
<rect x="1110.75" y="1423.85" width="23.3" height="23.3" fill="#5b9bd5"/>
<rect x="1278.25" y="1503.65" width="23.3" height="23.3" fill="#5b9bd5"/>
<rect x="1445.55" y="1541.25" width="23.3" height="23.3" fill="#5b9bd5"/>
<polyline points="954.6,1722.2 995.8,1372 1121.9,1414.8 1289.9,1485.5 1457.2,1546.4" fill="none" stroke="#4472c4" stroke-width="3.4" stroke-linejoin="round" stroke-linecap="round"/>
<polygon points="954.6,1708.9 967.9,1722.2 954.6,1735.5 941.3,1722.2" fill="#4472c4"/>
<polygon points="995.8,1358.7 1009.1,1372 995.8,1385.3 982.5,1372" fill="#4472c4"/>
<polygon points="1121.9,1401.5 1135.2,1414.8 1121.9,1428.1 1108.6,1414.8" fill="#4472c4"/>
<polygon points="1289.9,1472.2 1303.2,1485.5 1289.9,1498.8 1276.6,1485.5" fill="#4472c4"/>
<polygon points="1457.2,1533.1 1470.5,1546.4 1457.2,1559.7 1443.9,1546.4" fill="#4472c4"/>
<text transform="translate(1015.79 1359.97) scale(1.08 1)" font-size="38.5" font-weight="bold" letter-spacing="1.9" class="a">***</text>
<text transform="translate(1000.79 1427.66) scale(1.08 1)" font-size="38.5" font-weight="bold" letter-spacing="1.9" class="a">***</text>
<text transform="translate(1001.99 1455.37) scale(1.08 1)" font-size="38.5" font-weight="bold" letter-spacing="1.9" class="a">***</text>
<text transform="translate(1137.29 1385.47) scale(1.08 1)" font-size="38.5" font-weight="bold" letter-spacing="1.9" class="a">***</text>
<text transform="translate(1149.39 1430.37) scale(1.08 1)" font-size="38.5" font-weight="bold" letter-spacing="1.9" class="a">***</text>
<text transform="translate(1121.19 1497.77) scale(1.08 1)" font-size="38.5" font-weight="bold" letter-spacing="1.9" class="a">***</text>
<text transform="translate(1302.79 1395.37) scale(1.08 1)" font-size="38.5" font-weight="bold" letter-spacing="1.9" class="a">***</text>
<text transform="translate(1311.29 1464.16) scale(1.08 1)" font-size="38.5" font-weight="bold" letter-spacing="1.9" class="a">***</text>
<text transform="translate(1319.56 1485.15) scale(0.96 1)" font-size="30" class="h">#</text>
<text transform="translate(1295.39 1563.57) scale(1.08 1)" font-size="38.5" font-weight="bold" letter-spacing="1.9" class="a">***</text>
<text transform="translate(1296.86 1579.35) scale(0.96 1)" font-size="30" class="h">###</text>
<text transform="translate(1436.99 1435.57) scale(1.08 1)" font-size="38.5" font-weight="bold" letter-spacing="1.9" class="a">***</text>
<text transform="translate(1474.79 1514.97) scale(1.08 1)" font-size="38.5" font-weight="bold" letter-spacing="1.9" class="a">***</text>
<text transform="translate(1484.06 1532.95) scale(0.96 1)" font-size="30" class="h">##</text>
<text transform="translate(1478.09 1595.37) scale(1.08 1)" font-size="38.5" font-weight="bold" letter-spacing="1.9" class="a">***</text>
<text transform="translate(1481.86 1613.55) scale(0.96 1)" font-size="30" class="h">###</text>
</g>
<g id="legend">
<line x1="1009.6" y1="1818.5" x2="1022.4" y2="1818.5" stroke="#000" stroke-width="3.6" stroke-linecap="round"/>
<line x1="1064.4" y1="1818.5" x2="1076.6" y2="1818.5" stroke="#000" stroke-width="3.6" stroke-linecap="round"/>
<polygon points="1042.3,1812.74 1048.79,1824.75 1035.81,1824.75" fill="#fff" stroke="#000" stroke-width="2.7"/>
<text transform="translate(1082.49 1827.6) scale(1.0112 1)" font-size="28.7">Sham</text>
<line x1="1009.5" y1="1862.9" x2="1077" y2="1862.9" stroke="#ff0000" stroke-width="6.2" stroke-linecap="round"/>
<circle cx="1042.8" cy="1862.9" r="9.2" fill="#ff0000"/>
<text transform="translate(1081.18 1872.5) scale(1.0143 1)" font-size="28.7">ICH + Vehicle</text>
<line x1="1009.5" y1="1908" x2="1077" y2="1908" stroke="#5b9bd5" stroke-width="5.8" stroke-linecap="round"/>
<rect x="1033.05" y="1898.75" width="18.5" height="18.5" fill="#5b9bd5"/>
<text transform="translate(1081.2 1917.3) scale(1.0053 1)" font-size="28.7">ICH + C-DIM12 (50)</text>
<line x1="1009" y1="1951" x2="1077.5" y2="1951" stroke="#4472c4" stroke-width="3" stroke-linecap="round"/>
<polygon points="1042.3,1942.5 1050.8,1951 1042.3,1959.5 1033.8,1951" fill="#4472c4"/>
<text transform="translate(1081.2 1960.7) scale(1.0064 1)" font-size="28.7">ICH + C-DIM12 (100)</text>
</g>
</svg></body></html>
